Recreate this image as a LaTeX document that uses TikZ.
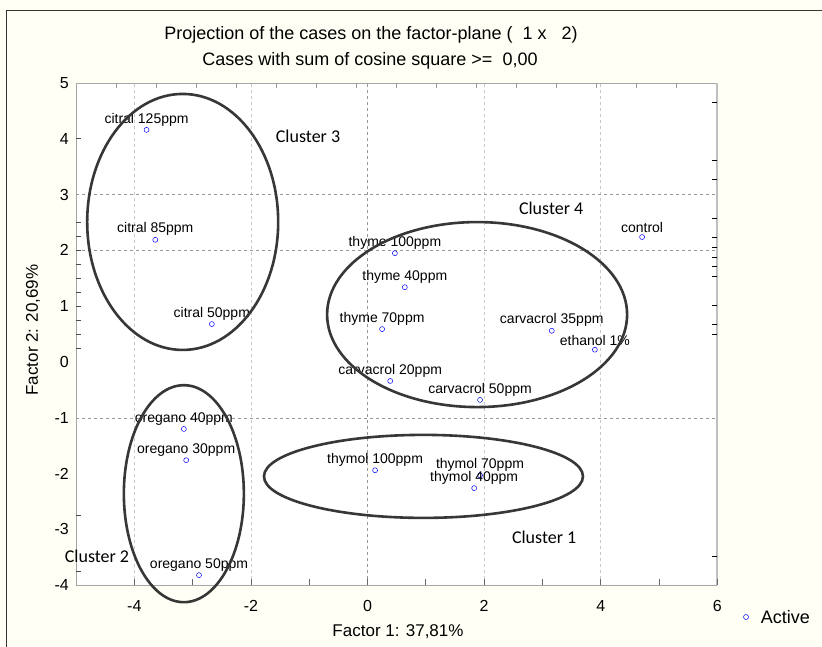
\documentclass[tikz,border=0pt]{standalone}
\usepackage{fontspec}
\setmainfont{Liberation Sans}
\newfontfamily\clusterfont{Carlito}
\usetikzlibrary{positioning}

\definecolor{ivory}{RGB}{255,255,246}
\definecolor{gridgray}{RGB}{200,200,200}
\definecolor{zerogray}{RGB}{150,150,150}
\definecolor{ringgray}{RGB}{55,55,55}

\begin{document}
\begin{tikzpicture}[x=1pt,y=1pt,
    case/.style={circle, draw=blue, inner sep=0pt, minimum size=5pt, line width=0.5pt},
    caselabel/.style={font=\fontsize{14}{14}\selectfont, inner sep=0pt},
    cluster/.style={draw=ringgray, line width=2.6pt},
    clusterlabel/.style={font=\clusterfont\fontsize{18}{18}\selectfont, inner sep=0pt},
    ticklabel/.style={font=\fontsize{16}{16}\selectfont, inner sep=0pt},
    title/.style={font=\fontsize{18}{18}\selectfont, inner sep=0pt}]
    \useasboundingbox (0,0) rectangle (822,646);
    \fill[ivory] (0,0) rectangle (822,646);
    \draw[line width=1pt, black!80] (6,-5) |- (830,635);

    % titles
    \node[title]	(head)	at (371,611)	{Projection of the cases on the factor-plane (\ \ 1 x \ \ 2)};
    \node[title]	(sub)	at (370,585)	{Cases with sum of cosine square >= \ 0,00};

    \begin{scope}[shift={(367.5,284)}, x=58.3pt, y=55.8pt]
        \fill[white] (-5,-4) rectangle (6,5);
        % grid
        \foreach \gx in {-4,-2,2,4}
            \draw[gridgray, dashed, line width=0.6pt] (\gx,-4) -- (\gx,5);
        \draw[zerogray, dashed, line width=0.7pt] (0,-4) -- (0,5);
        \foreach \gy in {3,2,-1}
            \draw[zerogray, dashed, line width=0.6pt] (-5,\gy) -- (6,\gy);
        % frame and ticks
        \draw[black!35, line width=0.8pt] (-5,-4) -- (-5,5) -- (6,5);
        \draw[black!25, line width=2pt] (6,5) -- (6,-4);
        \draw[black!35, line width=0.8pt] (-5,-4) -- (6,-4);
        \foreach \tx in {-4,...,6}
            \draw[black!60, line width=0.8pt] (\tx,-4) -- ++(0,6pt);
        \foreach \k in {0,...,14}
            \draw[black!40, line width=0.8pt] (-4.30+0.686*\k,5) -- ++(0,-5pt);
        \foreach \ty in {4,2.5,2.25,2,1.75,1.5,1.25,1,0.75,0.5,0.25,-2.75,-3.75}
            \draw[black!70, line width=0.8pt] (-5,\ty) -- ++(5pt,0);
        \foreach \ty in {4.66,3.62,3.28,2.58,2.24,2.06,1.88,1.72,1.54,1.02,0.68,0.5,-3.48}
            \draw[black, line width=0.8pt] (6,\ty) -- ++(-5pt,0);
        \foreach \tx in {-4,-2,0,2,4,6}
            \node[ticklabel]	at (\tx,-4.38)	{\tx};
        \foreach \ty in {-4,...,5}
            \node[ticklabel, anchor=east]	at (-5.12,\ty)	{\ty};

        % cases
        \node[case]	(c125)	at (-3.79,4.16)		{};
        \node[case]	(c85)	at (-3.64,2.19)		{};
        \node[case]	(c50)	at (-2.67,0.68)		{};
        \node[case]	(o40)	at (-3.15,-1.20)	{};
        \node[case]	(o30)	at (-3.11,-1.76)	{};
        \node[case]	(o50)	at (-2.89,-3.82)	{};
        \node[case]	(tl100)	at (0.13,-1.94)		{};
        \node[case]	(tl70)	at (1.93,-2.03)		{};
        \node[case]	(tl40)	at (1.83,-2.26)		{};
        \node[case]	(te100)	at (0.47,1.95)		{};
        \node[case]	(te40)	at (0.64,1.34)		{};
        \node[case]	(te70)	at (0.25,0.59)		{};
        \node[case]	(cv20)	at (0.39,-0.34)		{};
        \node[case]	(cv50)	at (1.93,-0.68)		{};
        \node[case]	(cv35)	at (3.16,0.56)		{};
        \node[case]	(eth)	at (3.90,0.22)		{};
        \node[case]	(ctrl)	at (4.71,2.24)		{};

        \node[caselabel]	[above=1pt of c125]		{citral 125ppm};
        \node[caselabel]	[above=1pt of c85]		{citral 85ppm};
        \node[caselabel]	[above=1pt of c50]		{citral 50ppm};
        \node[caselabel]	[above=1pt of o40]		{oregano 40ppm};
        \node[caselabel]	[above=1pt of o30]		{oregano 30ppm};
        \node[caselabel]	[above=1pt of o50]		{oregano 50ppm};
        \node[caselabel]	[above=1pt of tl100]	{thymol 100ppm};
        \node[caselabel]	[above=1pt of tl70]		{thymol 70ppm};
        \node[caselabel]	[above=1pt of tl40]		{thymol 40ppm};
        \node[caselabel]	[above=1pt of te100]	{thyme 100ppm};
        \node[caselabel]	[above=1pt of te40]		{thyme 40ppm};
        \node[caselabel]	[above=1pt of te70]		{thyme 70ppm};
        \node[caselabel]	[above=1pt of cv20]		{carvacrol 20ppm};
        \node[caselabel]	[above=1pt of cv50]		{carvacrol 50ppm};
        \node[caselabel]	[above=1pt of cv35]		{carvacrol 35ppm};
        \node[caselabel]	[above=1pt of eth]		{ethanol 1\%};
        \node[caselabel]	[above=1pt of ctrl]		{control};

        % clusters
        \draw[cluster] (-3.15,-2.36) ellipse [x radius=60pt, y radius=108.5pt];
        \draw[cluster] (-3.17,2.51) ellipse [x radius=95.5pt, y radius=128pt];
        \draw[cluster] (0.96,-2.05) ellipse [x radius=159.5pt, y radius=41.5pt];
        \draw[cluster] (1.88,0.85) ellipse [x radius=150pt, y radius=92.5pt];
        \node[clusterlabel]	(k1)	at (3.03,-3.14)	{Cluster 1};
        \node[clusterlabel]	(k2)	at (-4.64,-3.49)	{Cluster 2};
        \node[clusterlabel]	(k3)	at (-1.02,4.05)	{Cluster 3};
        \node[clusterlabel]	(k4)	at (3.15,2.76)	{Cluster 4};
    \end{scope}

    % axis titles and legend
    \node[title, font=\fontsize{17}{17}\selectfont]	(fx)	at (398,14)	{Factor 1: 37,81\%};
    \node[title, font=\fontsize{17}{17}\selectfont, rotate=90]	(fy)	at (33,316)	{Factor 2: 20,69\%};
    \node[case]	(key)	at (746,29)	{};
    \node[title, anchor=west]	(keytext)	[right=12pt of key]	{Active};
\end{tikzpicture}
\end{document}
